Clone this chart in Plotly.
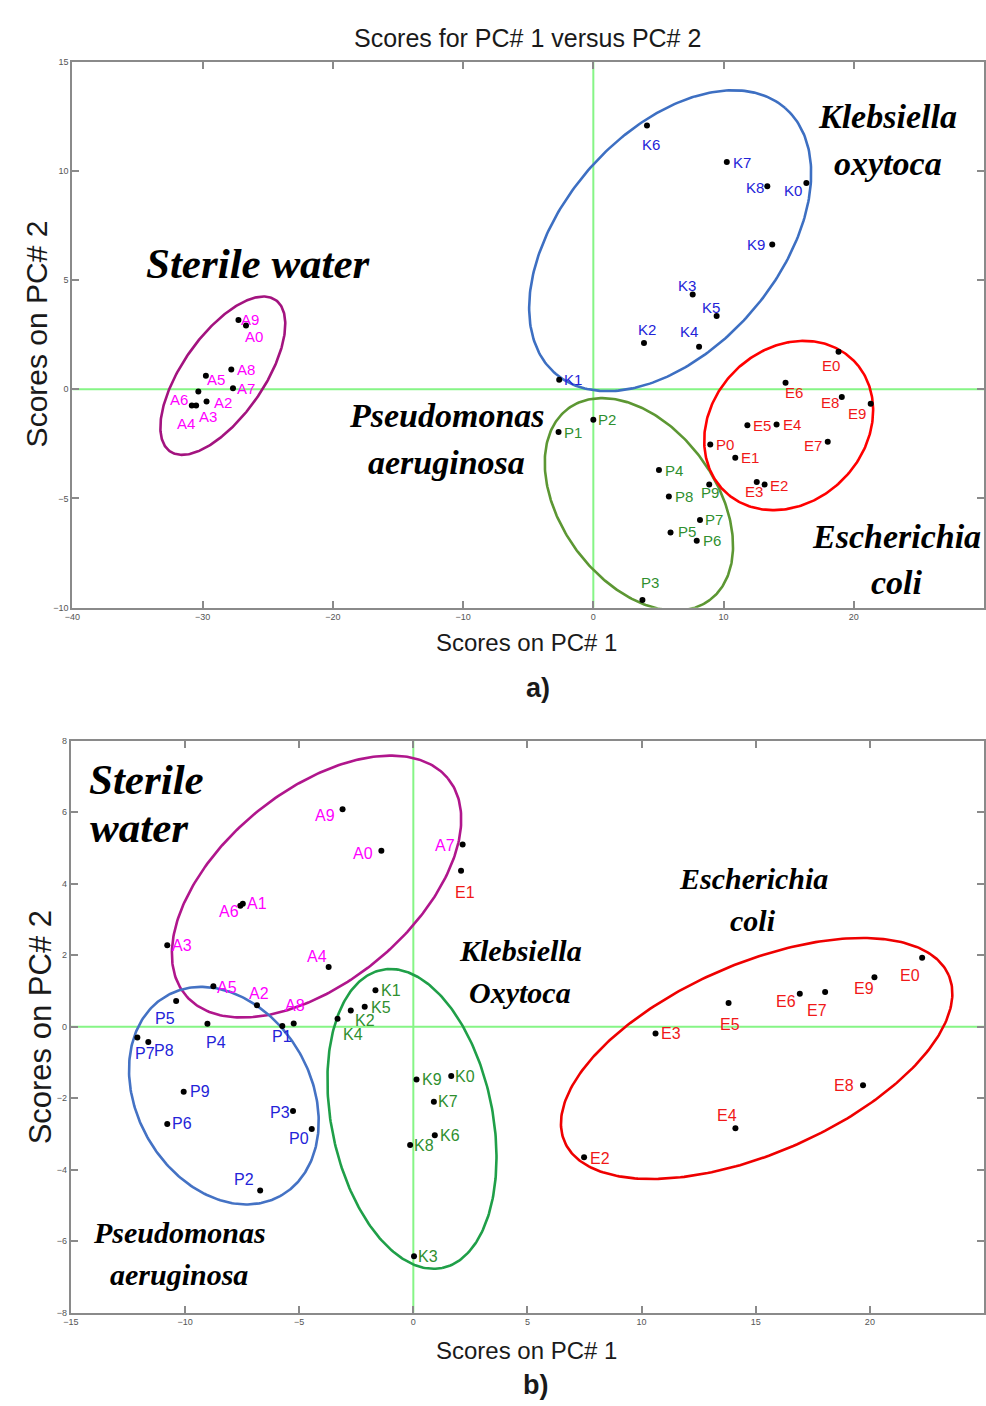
import numpy as np
import plotly.graph_objects as go

W, H = 986, 1406

# ---------------- DATA : panel a) ----------------
a_A_labels = ["A9", "A0", "A8", "A7", "A5", "A6", "A2", "A3", "A4"]
a_A_x = [-27.25, -26.67, -27.8, -27.67, -29.75, -30.33, -29.7, -30.5, -30.83]
a_A_y = [3.17, 2.92, 0.9, 0.05, 0.62, -0.1, -0.56, -0.74, -0.74]

a_K_labels = ["K6", "K7", "K8", "K0", "K9", "K3", "K5", "K2", "K4", "K1"]
a_K_x = [4.12, 10.25, 13.36, 16.36, 13.74, 7.63, 9.47, 3.89, 8.12, -2.62]
a_K_y = [12.07, 10.4, 9.29, 9.44, 6.63, 4.34, 3.35, 2.12, 1.94, 0.43]

a_E_labels = ["E0", "E6", "E8", "E9", "E5", "E4", "E7", "P0", "E1", "E3", "E2"]
a_E_x = [18.83, 14.76, 19.08, 21.3, 11.83, 14.07, 18.0, 8.98, 10.9, 12.55, 13.15]
a_E_y = [1.72, 0.30, -0.35, -0.66, -1.65, -1.61, -2.4, -2.53, -3.14, -4.25, -4.36]

a_P_labels = ["P1", "P2", "P4", "P8", "P9", "P7", "P5", "P6", "P3"]
a_P_x = [-2.67, 0.0, 5.04, 5.8, 8.9, 8.19, 5.93, 7.94, 3.77]
a_P_y = [-1.96, -1.4, -3.7, -4.91, -4.36, -5.99, -6.56, -6.94, -9.65]

a_x_ticks = [-40, -30, -20, -10, 0, 10, 20, 30]
a_y_ticks = [-10, -5, 0, 5, 10, 15]

# ---------------- DATA : panel b) ----------------
b_A_labels = ["A9", "A0", "A7", "A6", "A1", "A3", "A4", "A5", "A2", "A8"]
b_A_x = [-3.10, -1.40, 2.16, -7.58, -7.47, -10.78, -3.71, -8.76, -6.85, -5.24]
b_A_y = [6.08, 4.92, 5.10, 3.38, 3.44, 2.28, 1.67, 1.13, 0.60, 0.09]

b_P_labels = ["P1", "P5", "P4", "P7", "P8", "P9", "P6", "P3", "P0", "P2"]
b_P_x = [-5.74, -10.39, -9.02, -12.09, -11.61, -10.06, -10.78, -5.27, -4.45, -6.71]
b_P_y = [0.02, 0.72, 0.08, -0.30, -0.43, -1.82, -2.72, -2.36, -2.86, -4.58]

b_K_labels = ["K4", "K2", "K5", "K1", "K9", "K0", "K7", "K6", "K8", "K3"]
b_K_x = [-3.32, -2.74, -2.13, -1.66, 0.14, 1.66, 0.90, 0.94, -0.14, 0.03]
b_K_y = [0.22, 0.45, 0.56, 1.02, -1.48, -1.38, -2.10, -3.04, -3.31, -6.42]

b_E_labels = ["E1", "E0", "E9", "E6", "E7", "E5", "E3", "E8", "E4", "E2"]
b_E_x = [2.09, 22.29, 20.20, 16.93, 18.04, 13.81, 10.61, 19.70, 14.11, 7.48]
b_E_y = [4.36, 1.93, 1.38, 0.92, 0.97, 0.66, -0.19, -1.64, -2.84, -3.65]

b_x_ticks = [-15, -10, -5, 0, 5, 10, 15, 20, 25]
b_y_ticks = [-8, -6, -4, -2, 0, 2, 4, 6, 8]

# ---------------- STYLE ----------------
MAG = "#ff00ff"
BLUE_T = "#2323d8"
RED_T = "#f01818"
GREEN_T = "#2f8f2f"

# label offsets (px, right / down) relative to the point
a_off = {
    "A9": (12, -1), "A0": (8, 11), "A8": (15, 0), "A7": (13, 0), "A5": (10, 4),
    "A6": (-19, 8), "A2": (16, 1), "A3": (12, 11), "A4": (-6, 18),
    "K6": (4, 19), "K7": (15, 0), "K8": (-12, 1), "K0": (-13, 7), "K9": (-16, 0),
    "K3": (-6, -9), "K5": (-6, -9), "K2": (3, -13), "K4": (-10, -15), "K1": (14, 0),
    "E0": (-8, 14), "E6": (8, 10), "E8": (-12, 6), "E9": (-14, 10), "E5": (15, 0),
    "E4": (15, 0), "E7": (-15, 4), "P0": (15, 0), "E1": (15, 0), "E3": (-3, 9),
    "E2": (14, 1),
    "P1": (14, 0), "P2": (14, 0), "P4": (15, 0), "P8": (15, 0), "P9": (1, 8),
    "P7": (14, -1), "P5": (16, -1), "P6": (15, 0), "P3": (8, -18),
}
b_off = {
    "A9": (-18, 6), "A0": (-18, 3), "A7": (-18, 1), "A6": (-11, 6), "A1": (14, 0),
    "A3": (15, 0), "A4": (-12, -10), "A5": (14, 1), "A2": (2, -12), "A8": (1, -18),
    "P1": (0, 11), "P5": (-11, 18), "P4": (9, 19), "P7": (8, 16), "P8": (16, 8),
    "P9": (16, 0), "P6": (15, 0), "P3": (-13, 1), "P0": (-13, 10), "P2": (-16, -11),
    "K4": (15, 16), "K2": (14, 10), "K5": (16, 1), "K1": (16, 0), "K9": (15, 0),
    "K0": (14, 0), "K7": (14, 0), "K6": (15, 0), "K8": (14, 1), "K3": (14, 0),
    "E1": (4, 22), "E0": (-12, 18), "E9": (-10, 11), "E6": (-14, 8), "E7": (-8, 18),
    "E5": (1, 21), "E3": (15, 0), "E8": (-19, 0), "E4": (-8, -13), "E2": (16, 1),
}

# ellipses: centre (data), semi-axes (px), angle (deg, screen), colour
a_ellipses = [
    (-28.45, 0.62, 93, 41, 55, "#a3137f"),
    (5.9, 6.8, 177, 109, 49, "#3d6fc2"),
    (3.5, -5.27, 120, 78, -53.5, "#5c9733"),
    (15.0, -1.66, 92.6, 77.2, 45, "#ff0000"),
]
b_ellipses = [
    (-4.24, 3.92, 171.6, 96.3, 39.4, "#b0168c"),
    (-8.3, -1.93, 116, 87.8, -59.8, "#4472c4"),
    (-0.06, -2.58, 153.2, 81.3, -78.5, "#1f9f48"),
    (15.04, -0.89, 211.2, 95.6, 23.4, "#ee0000"),
]

# panel geometry in pixels
a_px = dict(x0=65, x1=985, y0=57, y1=607)
b_px = dict(x0=63.5, x1=985, y0=741, y1=1317)
a_xr, a_yr = [-40, 30], [-10, 15]
b_xr, b_yr = [-15, 25], [-8, 8]

fig = go.Figure()


def add_panel(xa, ya, groups, offsets, ellipses, px, xr, yr, lab_size):
    sx = (px["x1"] - px["x0"]) / (xr[1] - xr[0])
    sy = (px["y1"] - px["y0"]) / (yr[1] - yr[0])
    # zero lines
    fig.add_trace(go.Scatter(x=[0, 0], y=yr, mode="lines", xaxis=xa, yaxis=ya,
                             line=dict(color="#86f586", width=2), hoverinfo="skip", showlegend=False))
    fig.add_trace(go.Scatter(x=xr, y=[0, 0], mode="lines", xaxis=xa, yaxis=ya,
                             line=dict(color="#86f586", width=2), hoverinfo="skip", showlegend=False))
    t = np.linspace(0, 2 * np.pi, 300)
    for cx, cy, a, b, th, col in ellipses:
        r = np.deg2rad(th)
        dx = a * np.cos(r) * np.cos(t) - b * np.sin(r) * np.sin(t)
        dy = a * np.sin(r) * np.cos(t) + b * np.cos(r) * np.sin(t)
        fig.add_trace(go.Scatter(x=cx + dx / sx, y=cy + dy / sy, mode="lines", xaxis=xa, yaxis=ya,
                                 line=dict(color=col, width=2.6), hoverinfo="skip", showlegend=False))
    for xs, ys, labs, col in groups:
        fig.add_trace(go.Scatter(x=xs, y=ys, mode="markers", xaxis=xa, yaxis=ya,
                                 marker=dict(color="black", size=6), showlegend=False))
        for x, y, lab in zip(xs, ys, labs):
            ox, oy = offsets[lab]
            fig.add_annotation(x=x, y=y, xref=xa.replace("axis", ""), yref=ya.replace("axis", ""),
                               text=lab, showarrow=False, xshift=ox, yshift=-oy,
                               font=dict(family="Liberation Sans, Arial", size=lab_size, color=col))


add_panel("x", "y",
          [(a_A_x, a_A_y, a_A_labels, MAG), (a_K_x, a_K_y, a_K_labels, BLUE_T),
           (a_E_x, a_E_y, a_E_labels, RED_T), (a_P_x, a_P_y, a_P_labels, GREEN_T)],
          a_off, a_ellipses, a_px, a_xr, a_yr, 15)
add_panel("x2", "y2",
          [(b_A_x, b_A_y, b_A_labels, MAG), (b_P_x, b_P_y, b_P_labels, BLUE_T),
           (b_K_x, b_K_y, b_K_labels, GREEN_T), (b_E_x, b_E_y, b_E_labels, RED_T)],
          b_off, b_ellipses, b_px, b_xr, b_yr, 16)


def axis_common():
    return dict(showgrid=False, zeroline=False, showline=True, linecolor="#8a8a8a", linewidth=2,
                mirror="ticks", ticks="inside", ticklen=7, tickcolor="#8a8a8a", tickwidth=1.5,
                tickfont=dict(family="Liberation Sans, Arial", size=9, color="#555555"))


def dom_x(px):
    return [px["x0"] / W, px["x1"] / W]


def dom_y(px):
    return [1 - px["y1"] / H, 1 - px["y0"] / H]


fig.update_layout(
    width=W, height=H, margin=dict(l=0, r=0, t=0, b=0),
    paper_bgcolor="white", plot_bgcolor="white",
    xaxis=dict(domain=dom_x(a_px), range=a_xr, tickvals=a_x_ticks, anchor="y", **axis_common()),
    yaxis=dict(domain=dom_y(a_px), range=a_yr, tickvals=a_y_ticks, anchor="x", **axis_common()),
    xaxis2=dict(domain=dom_x(b_px), range=b_xr, tickvals=b_x_ticks, anchor="y2", **axis_common()),
    yaxis2=dict(domain=dom_y(b_px), range=b_yr, tickvals=b_y_ticks, anchor="x2", **axis_common()),
)


def paper_text(px, py, text, size, family="Liberation Sans, Arial", color="#1a1a1a",
               xanchor="center", angle=0):
    fig.add_annotation(x=px / W, y=1 - py / H, xref="paper", yref="paper", text=text,
                       showarrow=False, xanchor=xanchor, yanchor="middle", textangle=angle,
                       font=dict(family=family, size=size, color=color))


# titles
paper_text(524, 33, "Scores for PC# 1 versus PC# 2", 25)
paper_text(523, 642, "Scores on PC# 1", 24)
paper_text(523, 1355, "Scores on PC# 1", 24)
paper_text(29, 331, "Scores on PC# 2", 30, angle=-90)
paper_text(33, 1030, "Scores on PC# 2", 31, angle=-90)
paper_text(535, 688, "<b>a)</b>", 27)
paper_text(532, 1390, "<b>b)</b>", 27)

SERIF = "Liberation Serif, Times New Roman, serif"
# species names, panel a
paper_text(253, 260, "<b><i>Sterile water</i></b>", 43, SERIF, "black")
paper_text(888, 112, "<b><i>Klebsiella</i></b>", 34, SERIF, "black")
paper_text(888, 160, "<b><i>oxytoca</i></b>", 34, SERIF, "black")
paper_text(443, 413, "<b><i>Pseudomonas</i></b>", 34, SERIF, "black")
paper_text(443, 461, "<b><i>aeruginosa</i></b>", 34, SERIF, "black")
paper_text(897, 535, "<b><i>Escherichia</i></b>", 34, SERIF, "black")
paper_text(897, 582, "<b><i>coli</i></b>", 34, SERIF, "black")
# species names, panel b
paper_text(80, 780, "<b><i>Sterile</i></b>", 43, SERIF, "black", xanchor="left")
paper_text(81, 828, "<b><i>water</i></b>", 43, SERIF, "black", xanchor="left")
paper_text(517, 952, "<b><i>Klebsiella</i></b>", 30, SERIF, "black")
paper_text(517, 995, "<b><i>Oxytoca</i></b>", 30, SERIF, "black")
paper_text(752, 880, "<b><i>Escherichia</i></b>", 30, SERIF, "black")
paper_text(752, 922, "<b><i>coli</i></b>", 30, SERIF, "black")
paper_text(173, 1236, "<b><i>Pseudomonas</i></b>", 30, SERIF, "black")
paper_text(173, 1279, "<b><i>aeruginosa</i></b>", 30, SERIF, "black")

fig.write_html("out.html", config={"displayModeBar": False},
               post_script="document.body.style.margin='0px';")
